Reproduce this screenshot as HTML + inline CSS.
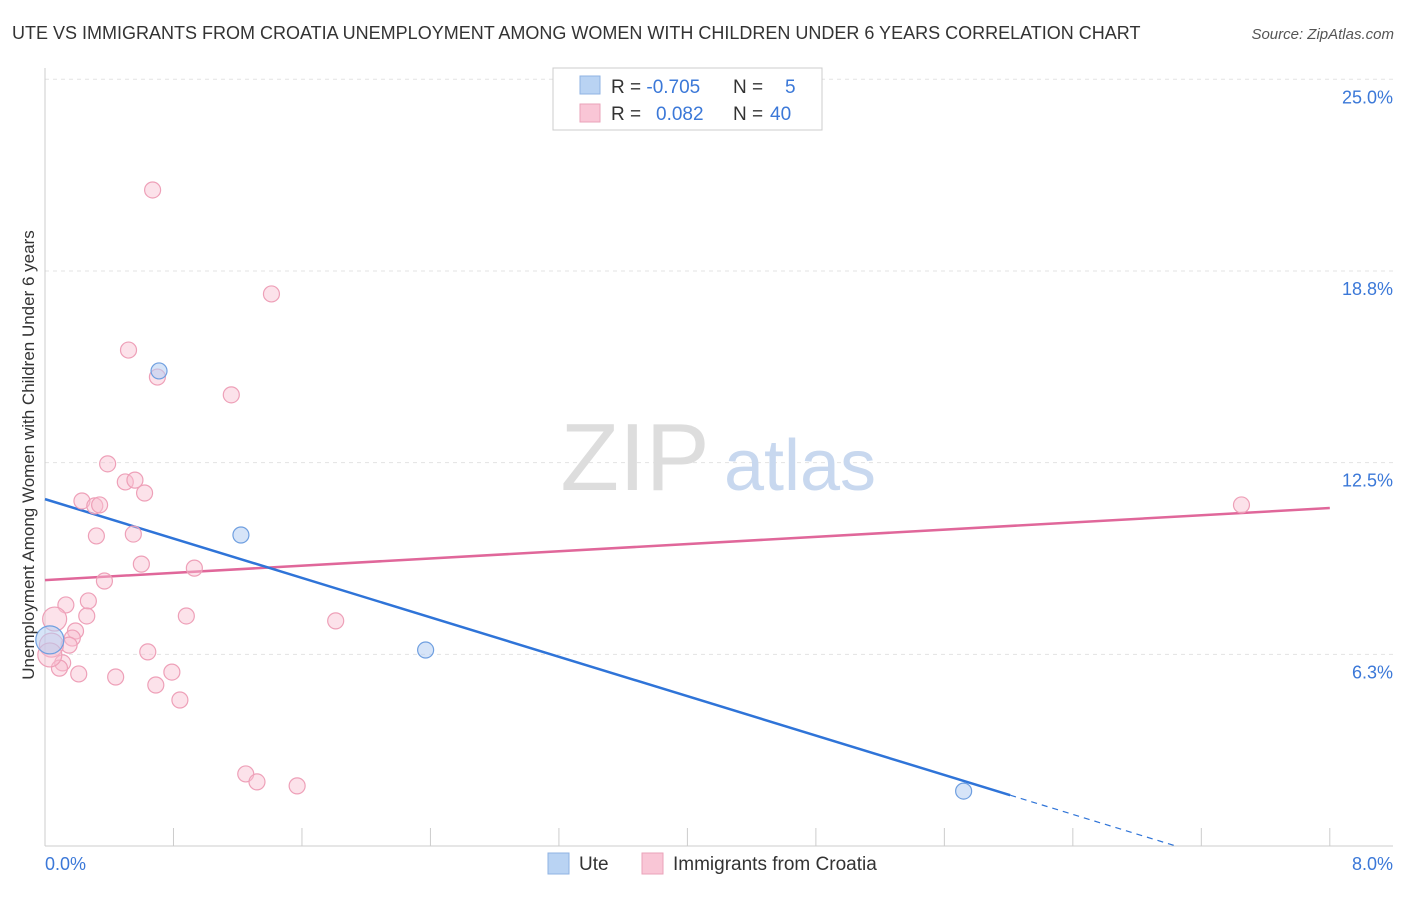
<!DOCTYPE html>
<html><head><meta charset="utf-8"><style>
body{margin:0;background:#fff;font-family:"Liberation Sans",sans-serif;}
svg text{font-family:"Liberation Sans",sans-serif;}
</style></head><body>
<svg id="chart" width="1406" height="892">
<text x="12" y="39" font-size="18" fill="#333">UTE VS IMMIGRANTS FROM CROATIA UNEMPLOYMENT AMONG WOMEN WITH CHILDREN UNDER 6 YEARS CORRELATION CHART</text>
<text x="1394" y="39" font-size="15" fill="#555" font-style="italic" text-anchor="end">Source: ZipAtlas.com</text>
<g id="grid"></g>
<g id="axes"></g>
<text x="635" y="490" font-size="96" fill="#ddd" font-family="Liberation Serif" text-anchor="middle">ZIP</text>
<text x="800" y="490" font-size="72" fill="#c8d8ef" text-anchor="middle">atlas</text>
<g id="lines"></g>
<g id="points"></g>
<text transform="translate(34,455) rotate(-90)" font-size="17" fill="#333" text-anchor="middle">Unemployment Among Women with Children Under 6 years</text>
<g>
<rect x="553" y="68" width="269" height="62" fill="#fff" stroke="#ccc"/>
<rect x="580" y="76" width="20" height="18" fill="#b9d3f3" stroke="#8fb3e3"/>
<rect x="580" y="104" width="20" height="18" fill="#f9c6d6" stroke="#eaa3b9"/>
<text x="611" y="93" font-size="19" fill="#333">R = <tspan fill="#3b78d8">-0.705</tspan><tspan x="733">N = </tspan><tspan x="785" fill="#3b78d8">5</tspan></text>
<text x="611" y="120" font-size="19" fill="#333">R = <tspan x="656" fill="#3b78d8">0.082</tspan><tspan x="733">N = </tspan><tspan x="770" fill="#3b78d8">40</tspan></text>
</g>
<g>
<rect x="548" y="853" width="21" height="21" fill="#b9d3f3" stroke="#8fb3e3"/>
<text x="579" y="870" font-size="19" fill="#333">Ute</text>
<rect x="642" y="853" width="21" height="21" fill="#f9c6d6" stroke="#eaa3b9"/>
<text x="673" y="870" font-size="19" fill="#333">Immigrants from Croatia</text>
</g>
</svg>
<script>
const xTicks=[0,0.8,1.6,2.4,3.2,4.0,4.8,5.6,6.4,7.2,8.0];
const yTicks=[6.25,12.5,18.75,25.0];
const yTickLabels=["6.3%","12.5%","18.8%","25.0%"];
const uteX=[0.71,1.22,2.37,5.72,0.03];
const uteY=[15.49,10.14,6.39,1.79,6.72];
const croX=[0.67,1.41,0.52,0.70,1.16,0.39,0.50,0.56,0.62,0.23,0.31,0.34,0.32,0.55,0.60,0.93,0.37,0.27,0.13,0.88,0.26,1.81,0.19,0.17,0.15,0.64,0.11,0.09,0.21,0.44,0.79,0.69,0.84,1.25,1.32,1.57,7.45,0.06,0.04,0.03];
const croY=[21.39,18.0,16.17,15.29,14.71,12.46,11.87,11.93,11.51,11.25,11.09,11.12,10.11,10.17,9.19,9.06,8.64,7.99,7.86,7.50,7.50,7.34,7.01,6.78,6.55,6.33,5.97,5.80,5.61,5.51,5.67,5.25,4.76,2.35,2.09,1.96,11.12,7.40,6.55,6.23];
const uteTrend=[11.31,-1.54];
const croTrend=[8.67,11.02];
const X=v=>45+v*160.6, Y=v=>846-v*30.67;
const NS="http://www.w3.org/2000/svg";
function mk(t,a,p){const e=document.createElementNS(NS,t);for(const k in a)e.setAttribute(k,a[k]);p.appendChild(e);return e;}
const grid=document.getElementById('grid'),axes=document.getElementById('axes');
yTicks.forEach((t,i)=>{
 const l=mk('line',{x1:45,x2:1393,y1:Y(t),y2:Y(t),stroke:'#e3e3e3','stroke-dasharray':'4,4'},grid);
 
 
 const tx=mk('text',{x:1393,y:Y(t)+24,'font-size':18,fill:'#3b78d8','text-anchor':'end'},axes);
 tx.textContent=yTickLabels[i];
 
 
});
const ax=mk('line',{x1:45,x2:1393,y1:846,y2:846,stroke:'#ccc'},axes);


const yax=mk('line',{x1:45,x2:45,y1:68,y2:846,stroke:'#ccc'},axes);


xTicks.forEach(t=>{
 const l=mk('line',{x1:X(t),x2:X(t),y1:828,y2:846,stroke:'#ccc'},axes);
 
 
});
[[0,'0.0%','start',45],[8,'8.0%','end',1393]].forEach(([v,s,a,x])=>{
 const tx=mk('text',{x:x,y:870,'font-size':18,fill:'#3b78d8','text-anchor':a},axes);
 tx.textContent=s;
 
 
});
const lines=document.getElementById('lines');
const pl=mk('line',{x1:X(0),y1:Y(croTrend[0]),x2:X(8),y2:Y(croTrend[1]),stroke:'#e0679a','stroke-width':2.5},lines);


const slope=(uteTrend[1]-uteTrend[0])/8, solidEnd=6.01, zeroX=-uteTrend[0]/slope;
const ul=mk('line',{x1:X(0),y1:Y(uteTrend[0]),x2:X(solidEnd),y2:Y(uteTrend[0]+slope*solidEnd),stroke:'#2f74d8','stroke-width':2.5},lines);


const ud=mk('line',{x1:X(solidEnd),y1:Y(uteTrend[0]+slope*solidEnd),x2:X(zeroX),y2:Y(0),stroke:'#2f74d8','stroke-width':1.2,'stroke-dasharray':'6,5'},lines);


const pts=document.getElementById('points');
croX.forEach((x,i)=>{
 const big=i>=37;
 const c=mk('circle',{cx:X(x),cy:Y(croY[i]),r:big?12:8,fill:'rgba(249,190,208,0.45)',stroke:'#eea0b8','stroke-width':1.2},pts);
 
 
});
uteX.forEach((x,i)=>{
 const big=i===4;
 const c=mk('circle',{cx:X(x),cy:Y(uteY[i]),r:big?14:8,fill:'rgba(180,206,243,0.55)',stroke:'#6f9fe0','stroke-width':1.2},pts);
 
 
});
</script>
</body></html>
